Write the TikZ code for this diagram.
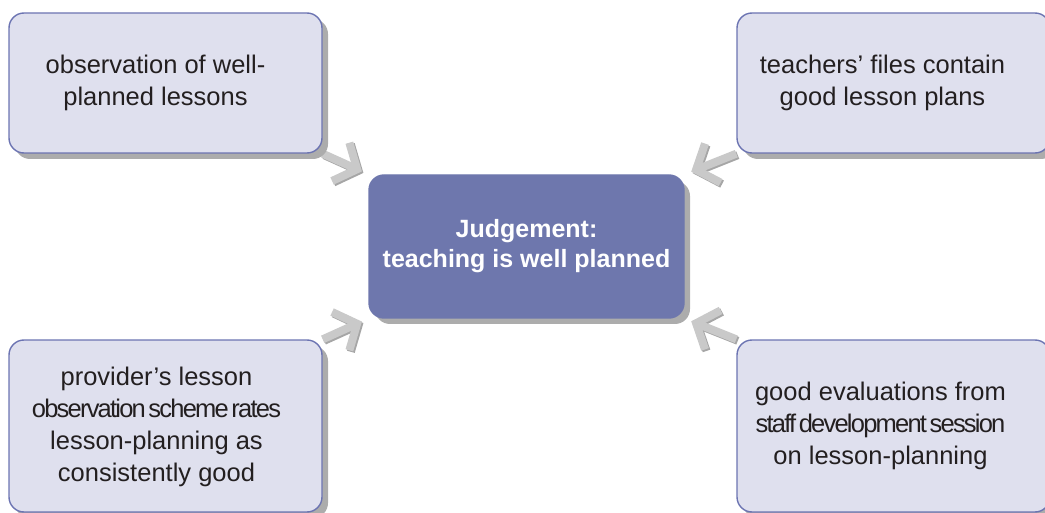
\documentclass[tikz,border=0pt]{standalone}
\usepackage{fontspec}
\setmainfont{Liberation Sans}
\newfontfamily\tightfont{Liberation Sans}[LetterSpace=-7,WordSpace=0.5]
\usetikzlibrary{arrows.meta,shadows,backgrounds}

\definecolor{boxfill}{HTML}{DFE0EE}
\definecolor{boxline}{HTML}{6C74B2}
\definecolor{judgefill}{HTML}{6E77AD}
\definecolor{shadowgray}{HTML}{ACACAC}
\definecolor{arrowlight}{HTML}{C9C9C9}
\definecolor{arrowdark}{HTML}{A6A6A6}
\definecolor{inktext}{HTML}{231F20}

\tikzset{
  evidence/.style={rectangle, rounded corners=15pt, fill=boxfill, draw=boxline,
    line width=1.4pt, minimum width=313pt, minimum height=140pt,
    drop shadow={shadow xshift=6pt, shadow yshift=-6pt, fill=shadowgray, opacity=1}},
  evidencetext/.style={align=center, text=inktext, font=\fontsize{25.5}{32}\selectfont},
  judgement/.style={evidence, fill=judgefill, draw=judgefill, minimum width=315pt,
    minimum height=143pt, align=center, text=white, font=\fontsize{25}{30}\selectfont\bfseries},
  pointer/.style={line width=8pt, shorten >=7pt,
    -{Straight Barb[length=18pt,width=42pt,line width=8pt]}},
}

\begin{document}
\begin{tikzpicture}[x=1pt,y=-1pt]
  \useasboundingbox (0,0) rectangle (1045,513);
  % Centre judgement
  \node[judgement] (judge) at (526.5,246.5) {Judgement:\\teaching is well planned};
  % Evidence boxes
  \node[evidence] (obs) at (165.5,83) {};
  \node[evidence] (files) at (893.5,83) {};
  \node[evidence, minimum height=172pt] (scheme) at (165.5,426) {};
  \node[evidence, minimum height=172pt] (evals) at (893.5,426) {};
  % Their texts, set a little left of centre
  \node[evidencetext] (obs-txt) at ([xshift=-10pt]obs.center) {observation of well-\\planned lessons};
  \node[evidencetext] (files-txt) at ([xshift=-11pt]files.center) {teachers’ files contain\\good lesson plans};
  \node[evidencetext] (scheme-txt) at ([xshift=-9pt,yshift=-1pt]scheme.center)
    {provider’s lesson\\{\tightfont observation scheme rates}\\lesson-planning as\\consistently good};
  \node[evidencetext] (evals-txt) at ([xshift=-13pt]evals.center)
    {good evaluations from\\{\tightfont staff development session}\\on lesson-planning};
  % Grey arrows behind the boxes
  \begin{scope}[on background layer]
    \foreach \from/\to in {obs.south east/judge.north west, files.south west/judge.north east,
                           scheme.north east/judge.south west, evals.north west/judge.south east}{
      \draw[pointer, arrowdark, transform canvas={shift={(1.5pt,-1.5pt)}}] (\from) -- (\to);
      \draw[pointer, arrowlight] (\from) -- (\to);
    }
  \end{scope}
\end{tikzpicture}
\end{document}
